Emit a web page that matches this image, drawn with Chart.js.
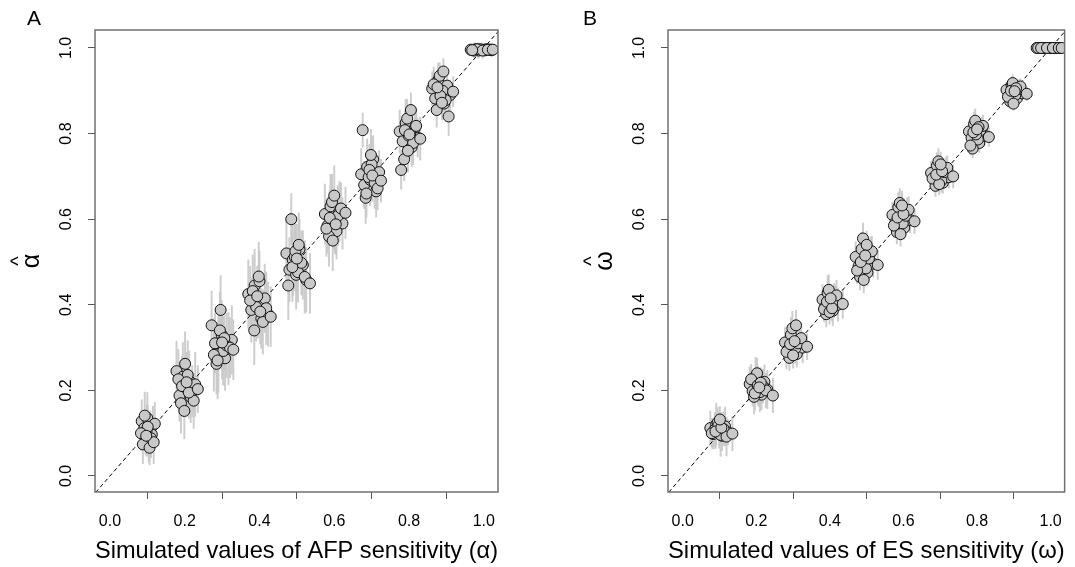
<!DOCTYPE html>
<html>
<head>
<meta charset="utf-8">
<script src="https://cdn.jsdelivr.net/npm/chart.js@4.4.1/dist/chart.umd.min.js"></script>
<style>
  html, body { margin: 0; padding: 0; background: #fff; }
  body { width: 1075px; height: 567px; position: relative; overflow: hidden; }
  canvas { position: absolute; top: 0; }
  #panelA { left: 0; }
  #panelB { left: 537px; }
</style>
</head>
<body>
<canvas id="panelA" width="537" height="567"></canvas>
<canvas id="panelB" width="538" height="567"></canvas>
<script>
// Tick labels
const xTicks = [0.0, 0.2, 0.4, 0.6, 0.8, 1.0];
const yTicks = [0.0, 0.2, 0.4, 0.6, 0.8, 1.0];
const diagLine = [-0.1, 1.1];

// Panel A: simulated AFP sensitivity (x, jittered), estimate and error half-width
const afpX = [
  0.085,0.092,0.100,0.108,0.115,0.095,0.104,0.112,0.088,0.098,0.120,0.106,0.093,0.110,0.101,0.083,0.117,0.097,
  0.178,0.186,0.195,0.204,0.212,0.220,0.228,0.190,0.199,0.208,0.216,0.183,0.224,0.201,0.193,0.211,0.235,0.205,
  0.272,0.281,0.290,0.299,0.308,0.317,0.326,0.285,0.294,0.303,0.312,0.278,0.321,0.296,0.288,0.306,0.330,0.300,
  0.370,0.378,0.387,0.396,0.405,0.414,0.423,0.382,0.391,0.400,0.409,0.375,0.418,0.394,0.386,0.402,0.430,0.398,
  0.472,0.480,0.489,0.498,0.507,0.516,0.525,0.485,0.494,0.503,0.512,0.477,0.521,0.496,0.488,0.505,0.535,0.500,
  0.575,0.582,0.590,0.598,0.606,0.614,0.622,0.586,0.594,0.602,0.610,0.579,0.618,0.596,0.588,0.604,0.630,0.600,
  0.672,0.680,0.688,0.696,0.704,0.712,0.720,0.684,0.692,0.700,0.708,0.676,0.716,0.694,0.686,0.702,0.725,0.698,
  0.775,0.783,0.791,0.799,0.807,0.815,0.823,0.787,0.795,0.803,0.811,0.779,0.819,0.797,0.789,0.805,0.830,0.801,
  0.862,0.870,0.878,0.886,0.894,0.902,0.910,0.874,0.882,0.890,0.898,0.866,0.906,0.884,0.876,0.892,0.918,0.888,
  0.965,0.972,0.979,0.986,0.993,1.000,1.007,1.014,1.021,0.975,0.990,1.004,1.018,0.982,0.997,1.011,0.969,1.024
];
const afpY = [
  0.128,0.112,0.135,0.102,0.118,0.091,0.083,0.097,0.074,0.106,0.122,0.066,0.141,0.088,0.115,0.100,0.079,0.094,
  0.245,0.188,0.232,0.205,0.222,0.198,0.214,0.170,0.152,0.236,0.185,0.226,0.176,0.262,0.210,0.195,0.203,0.219,
  0.352,0.310,0.285,0.330,0.275,0.298,0.318,0.262,0.340,0.292,0.305,0.283,0.300,0.388,0.270,0.322,0.295,0.312,
  0.425,0.388,0.445,0.402,0.368,0.415,0.378,0.432,0.395,0.455,0.360,0.410,0.392,0.420,0.340,0.384,0.372,0.466,
  0.520,0.482,0.505,0.470,0.530,0.493,0.458,0.600,0.512,0.476,0.498,0.445,0.465,0.525,0.488,0.540,0.450,0.508,
  0.612,0.585,0.630,0.600,0.572,0.618,0.590,0.560,0.640,0.595,0.608,0.578,0.625,0.550,0.603,0.588,0.615,0.655,
  0.705,0.680,0.722,0.692,0.740,0.665,0.710,0.650,0.698,0.728,0.685,0.808,0.672,0.715,0.660,0.702,0.690,0.750,
  0.805,0.782,0.825,0.795,0.768,0.812,0.790,0.740,0.835,0.800,0.778,0.715,0.818,0.760,0.808,0.855,0.788,0.798,
  0.905,0.882,0.925,0.895,0.870,0.912,0.890,0.855,0.935,0.900,0.878,0.915,0.840,0.888,0.908,0.945,0.898,0.872,
  0.996,0.995,0.997,0.994,0.996,0.995,0.997,0.996,0.995,0.994,0.997,0.995,0.996,0.997,0.994,0.996,0.995,0.996
];
const afpErr = [
  0.05,0.04,0.06,0.05,0.045,0.04,0.05,0.035,0.045,0.06,0.05,0.04,0.055,0.045,0.05,0.04,0.05,0.045,
  0.07,0.06,0.08,0.065,0.07,0.06,0.075,0.07,0.065,0.08,0.06,0.07,0.065,0.075,0.07,0.06,0.055,0.07,
  0.08,0.07,0.09,0.08,0.075,0.085,0.08,0.07,0.09,0.08,0.075,0.085,0.07,0.08,0.09,0.075,0.07,0.085,
  0.08,0.075,0.085,0.08,0.07,0.08,0.075,0.085,0.08,0.07,0.075,0.08,0.085,0.07,0.08,0.075,0.07,0.08,
  0.08,0.075,0.085,0.08,0.07,0.08,0.075,0.06,0.08,0.07,0.075,0.08,0.085,0.07,0.08,0.075,0.07,0.08,
  0.07,0.065,0.075,0.07,0.065,0.07,0.06,0.07,0.065,0.075,0.07,0.065,0.06,0.07,0.065,0.07,0.06,0.07,
  0.06,0.055,0.065,0.06,0.055,0.06,0.05,0.06,0.055,0.065,0.06,0.04,0.05,0.06,0.055,0.06,0.05,0.06,
  0.05,0.045,0.055,0.05,0.045,0.05,0.045,0.05,0.045,0.055,0.05,0.045,0.04,0.05,0.045,0.04,0.05,0.045,
  0.04,0.035,0.04,0.04,0.035,0.04,0.035,0.04,0.03,0.04,0.035,0.04,0.045,0.035,0.04,0.03,0.035,0.04,
  0.012,0.015,0.01,0.018,0.012,0.015,0.01,0.012,0.015,0.018,0.01,0.015,0.012,0.01,0.018,0.012,0.015,0.012
];

// Panel B: simulated ES sensitivity
const esX = [
  0.075,0.083,0.091,0.099,0.107,0.115,0.123,0.087,0.095,0.103,0.111,0.079,0.119,0.097,0.089,0.105,0.135,0.101,
  0.182,0.190,0.198,0.206,0.214,0.222,0.230,0.194,0.202,0.210,0.218,0.186,0.226,0.204,0.196,0.212,0.245,0.208,
  0.278,0.286,0.294,0.302,0.310,0.318,0.326,0.290,0.298,0.306,0.314,0.282,0.322,0.300,0.292,0.308,0.338,0.304,
  0.380,0.387,0.394,0.401,0.408,0.415,0.422,0.390,0.397,0.404,0.411,0.384,0.418,0.399,0.392,0.406,0.435,0.402,
  0.470,0.478,0.486,0.494,0.502,0.510,0.518,0.482,0.490,0.498,0.506,0.474,0.514,0.492,0.484,0.500,0.530,0.496,
  0.570,0.578,0.586,0.594,0.602,0.610,0.618,0.582,0.590,0.598,0.606,0.574,0.614,0.592,0.584,0.600,0.630,0.596,
  0.675,0.683,0.691,0.699,0.707,0.715,0.723,0.687,0.695,0.703,0.711,0.679,0.719,0.697,0.689,0.705,0.735,0.701,
  0.778,0.785,0.792,0.799,0.806,0.813,0.820,0.788,0.795,0.802,0.809,0.782,0.816,0.797,0.790,0.804,0.832,0.800,
  0.880,0.887,0.894,0.901,0.908,0.915,0.922,0.890,0.897,0.904,0.911,0.884,0.918,0.899,0.892,0.906,0.935,0.902,
  0.962,0.970,0.978,0.986,0.994,1.002,1.010,1.018,1.026,0.966,0.982,0.998,1.014,0.974,0.990,1.006,1.022,1.030
];
const esY = [
  0.112,0.098,0.120,0.105,0.094,0.116,0.102,0.108,0.125,0.096,0.110,0.100,0.092,0.118,0.104,0.113,0.099,0.132,
  0.215,0.198,0.232,0.205,0.190,0.220,0.202,0.185,0.240,0.196,0.210,0.226,0.200,0.212,0.193,0.218,0.188,0.207,
  0.312,0.295,0.330,0.305,0.285,0.318,0.300,0.276,0.345,0.298,0.310,0.290,0.322,0.282,0.308,0.352,0.302,0.315,
  0.412,0.395,0.428,0.405,0.386,0.418,0.400,0.378,0.435,0.397,0.410,0.390,0.422,0.383,0.407,0.392,0.402,0.415,
  0.512,0.490,0.530,0.502,0.475,0.520,0.496,0.465,0.555,0.485,0.508,0.480,0.525,0.458,0.500,0.540,0.493,0.515,
  0.610,0.592,0.628,0.602,0.580,0.618,0.598,0.570,0.638,0.590,0.608,0.585,0.622,0.565,0.604,0.612,0.595,0.632,
  0.708,0.692,0.725,0.702,0.685,0.716,0.698,0.678,0.735,0.690,0.710,0.695,0.720,0.682,0.704,0.712,0.700,0.728,
  0.805,0.790,0.822,0.800,0.778,0.812,0.795,0.765,0.830,0.786,0.808,0.772,0.818,0.798,0.803,0.815,0.792,0.810,
  0.902,0.888,0.912,0.898,0.882,0.908,0.894,0.875,0.918,0.890,0.904,0.886,0.910,0.870,0.900,0.906,0.893,0.899,
  1.000,1.000,1.000,1.000,1.000,1.000,1.000,1.000,1.000,1.000,1.000,1.000,1.000,1.000,1.000,1.000,1.000,1.000
];
const esErr = [
  0.04,0.035,0.05,0.04,0.035,0.045,0.03,0.04,0.035,0.05,0.04,0.035,0.045,0.03,0.04,0.035,0.04,0.03,
  0.04,0.035,0.045,0.04,0.035,0.04,0.045,0.04,0.035,0.045,0.04,0.035,0.04,0.045,0.04,0.035,0.04,0.045,
  0.035,0.03,0.04,0.035,0.03,0.04,0.035,0.03,0.04,0.035,0.03,0.04,0.035,0.03,0.04,0.035,0.03,0.04,
  0.035,0.03,0.04,0.03,0.035,0.028,0.038,0.03,0.035,0.032,0.04,0.03,0.035,0.028,0.036,0.03,0.034,0.03,
  0.035,0.03,0.04,0.035,0.03,0.038,0.032,0.03,0.036,0.034,0.04,0.03,0.035,0.03,0.038,0.032,0.034,0.03,
  0.03,0.028,0.034,0.03,0.026,0.032,0.03,0.028,0.033,0.03,0.034,0.027,0.031,0.028,0.032,0.03,0.029,0.033,
  0.028,0.025,0.03,0.027,0.024,0.029,0.026,0.025,0.03,0.027,0.029,0.024,0.028,0.025,0.03,0.026,0.027,0.029,
  0.025,0.022,0.028,0.024,0.022,0.026,0.023,0.022,0.027,0.024,0.026,0.021,0.025,0.023,0.026,0.024,0.022,0.025,
  0.018,0.016,0.02,0.017,0.015,0.019,0.017,0.016,0.02,0.017,0.019,0.015,0.018,0.016,0.019,0.017,0.016,0.018,
  0.002,0.002,0.002,0.002,0.002,0.002,0.002,0.002,0.002,0.002,0.002,0.002,0.002,0.002,0.002,0.002,0.002,0.002
];

const FONT = '"Liberation Sans", Arial, Helvetica, sans-serif';

// Box, rotated y tick labels, y title (symbol with a hat) and panel letter, R-style
const framePlugin = {
  id: 'frame',
  afterDraw(chart, args, opts) {
    const { ctx, chartArea: a, scales } = chart;
    ctx.save();
    ctx.strokeStyle = '#707070';
    ctx.lineWidth = 1.5;
    ctx.strokeRect(a.left, a.top, a.right - a.left, a.bottom - a.top);

    ctx.fillStyle = '#000';
    ctx.textAlign = 'center';
    ctx.textBaseline = 'middle';
    ctx.font = '16px ' + FONT;
    yTicks.forEach(v => {
      const py = scales.y.getPixelForValue(v);
      ctx.save();
      ctx.translate(a.left - 28, py);
      ctx.rotate(-Math.PI / 2);
      ctx.fillText(v.toFixed(1), 0, 0);
      ctx.restore();
    });

    // y title: greek letter with a hat above it, rotated
    ctx.save();
    ctx.translate(a.left - 64, (a.top + a.bottom) / 2);
    ctx.rotate(-Math.PI / 2);
    ctx.textBaseline = 'alphabetic';
    ctx.font = '25px ' + FONT;
    ctx.fillText(opts.yTitle, 0, 8);
    ctx.font = '20px ' + FONT;
    ctx.fillText('^', 0, -6);
    ctx.restore();

    ctx.font = '21px ' + FONT;
    ctx.textAlign = 'left';
    ctx.textBaseline = 'middle';
    ctx.fillText(opts.letter, opts.letterX, 19);
    ctx.restore();
  }
};

function makePanel(id, xs, ys, errs, opt) {
  const points = xs.map((x, i) => ({ x: x, y: ys[i] }));
  const bars = xs.map((x, i) => ({ x: x, y: [ys[i] - errs[i], ys[i] + errs[i]] }));
  const diag = diagLine.map(v => ({ x: v, y: v }));

  const tickAxis = (ticks) => ({
    afterBuildTicks: (scale) => { scale.ticks = ticks.map(v => ({ value: v })); },
    grid: { display: true, drawOnChartArea: false, drawTicks: true, tickLength: 7, color: '#555', lineWidth: 1 },
    border: { display: false }
  });

  return new Chart(document.getElementById(id), {
    data: {
      datasets: [
        {
          type: 'bar',
          data: bars,
          backgroundColor: 'rgba(200,200,200,0.9)',
          borderWidth: 0,
          barThickness: 1.3,
          order: 3
        },
        {
          type: 'line',
          data: diag,
          borderColor: '#000',
          borderWidth: 1,
          borderDash: [4, 3],
          pointRadius: 0,
          fill: false,
          order: 2
        },
        {
          type: 'scatter',
          data: points,
          pointRadius: 5.5,
          backgroundColor: '#c9c9c9',
          borderColor: '#111',
          borderWidth: 1,
          order: 1
        }
      ]
    },
    options: {
      responsive: false,
      animation: false,
      devicePixelRatio: 1,
      layout: { padding: { left: 0, top: 30, right: opt.padRight, bottom: 0 } },
      plugins: {
        legend: { display: false },
        tooltip: { enabled: false },
        frame: { yTitle: opt.yTitle, letter: opt.letter, letterX: opt.letterX }
      },
      scales: {
        x: Object.assign(tickAxis(xTicks), {
          type: 'linear',
          min: -0.04,
          max: 1.038,
          offset: false,
          ticks: {
            color: '#000',
            font: { size: 16, family: FONT },
            padding: 13,
            maxRotation: 0,
            callback: (v) => Number(v).toFixed(1)
          },
          title: {
            display: true,
            text: opt.xTitle,
            color: '#000',
            font: { size: 24, family: FONT },
            padding: { top: 0, bottom: 1 }
          },
          afterFit: (scale) => { scale.height = 75; }
        }),
        y: Object.assign(tickAxis(yTicks), {
          type: 'linear',
          min: -0.0374,
          max: 1.042,
          ticks: { display: false },
          afterFit: (scale) => { scale.width = opt.axisWidth; }
        })
      }
    },
    plugins: [framePlugin]
  });
}

makePanel('panelA', afpX, afpY, afpErr, {
  xTitle: 'Simulated values of AFP sensitivity (\u03b1)',
  yTitle: '\u03b1',
  letter: 'A',
  letterX: 27,
  axisWidth: 95,
  padRight: 39
});

makePanel('panelB', esX, esY, esErr, {
  xTitle: 'Simulated values of ES sensitivity (\u03c9)',
  yTitle: '\u03c9',
  letter: 'B',
  letterX: 46,
  axisWidth: 131,
  padRight: 5
});
</script>
</body>
</html>
